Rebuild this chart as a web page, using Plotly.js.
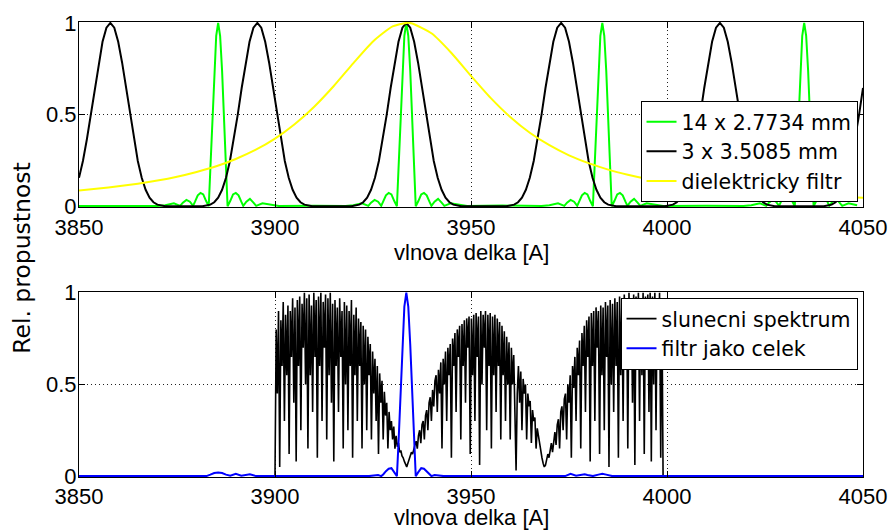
<!DOCTYPE html>
<html>
<head>
<meta charset="utf-8">
<script src="https://cdn.plot.ly/plotly-3.0.1.min.js"></script>
<style>html,body{margin:0;padding:0;background:#fff;}#chart{width:889px;height:531px;}</style>
</head>
<body>
<div id="chart"></div>
<script>
// ---------- DATA ----------
const xTicks = [3850, 3900, 3950, 4000, 4050];
const yTicks = [0, 0.5, 1];
const yTickText = ['0', '0.5', '1'];
const xTitle = 'vlnova delka [A]';
const yTitle = 'Rel. propustnost';

const greenName = '14 x 2.7734 mm';
const greenWave = [
3850, 3860, 3866,
3870, 3872, 3874.2, 3875.8, 3876.5, 3877.4, 3878.3, 3879.1, 3879.6, 3880.3, 3881, 3881.7, 3882.4, 3883.1, 3883.5, 3884, 3884.5, 3885, 3885.5, 3886, 3886.5, 3887, 3887.5, 3887.9, 3888.6, 3889.3, 3890, 3890.7, 3891.4, 3891.9, 3892.7, 3893.6, 3894.5, 3895.2, 3896.8, 3899, 3901,
3910,
3918, 3920, 3922.2, 3923.8, 3924.5, 3925.4, 3926.3, 3927.1, 3927.6, 3928.3, 3929, 3929.7, 3930.4, 3931.1, 3931.5, 3932, 3932.5, 3933, 3933.5, 3934, 3934.5, 3935, 3935.5, 3935.9, 3936.6, 3937.3, 3938, 3938.7, 3939.4, 3939.9, 3940.7, 3941.6, 3942.5, 3943.2, 3944.8, 3947, 3949,
3958,
3968, 3970, 3972.2, 3973.8, 3974.5, 3975.4, 3976.3, 3977.1, 3977.6, 3978.3, 3979, 3979.7, 3980.4, 3981.1, 3981.5, 3982, 3982.5, 3983, 3983.5, 3984, 3984.5, 3985, 3985.5, 3985.9, 3986.6, 3987.3, 3988, 3988.7, 3989.4, 3989.9, 3990.7, 3991.6, 3992.5, 3993.2, 3994.8, 3997, 3999,
4010,
4019.5, 4021.5, 4023.7, 4025.3, 4026, 4026.9, 4027.8, 4028.6, 4029.1, 4029.8, 4030.5, 4031.2, 4031.9, 4032.6, 4033, 4033.5, 4034, 4034.5, 4035, 4035.5, 4036, 4036.5, 4037, 4037.4, 4038.1, 4038.8, 4039.5, 4040.2, 4040.9, 4041.4, 4042.2, 4043.1, 4044, 4044.7, 4046.3, 4048.5, 4050
];
const greenT = [
0.002, 0.004, 0.002,
0.001, 0.006, 0.016, 0.002, 0.02, 0.035, 0.025, 0.002, 0.025, 0.06, 0.073, 0.065, 0.03, 0, 0.2, 0.47, 0.74, 0.93, 1, 0.93, 0.74, 0.47, 0.2, 0, 0.03, 0.065, 0.073, 0.06, 0.025, 0.002, 0.025, 0.04, 0.02, 0.002, 0.016, 0.006, 0.001,
0.003,
0.001, 0.006, 0.016, 0.002, 0.02, 0.035, 0.025, 0.002, 0.025, 0.06, 0.073, 0.065, 0.03, 0, 0.2, 0.47, 0.74, 0.93, 1, 0.93, 0.74, 0.47, 0.2, 0, 0.03, 0.065, 0.073, 0.06, 0.025, 0.002, 0.025, 0.04, 0.02, 0.002, 0.016, 0.006, 0.001,
0.004,
0.001, 0.006, 0.016, 0.002, 0.02, 0.035, 0.025, 0.002, 0.025, 0.06, 0.073, 0.065, 0.03, 0, 0.2, 0.47, 0.74, 0.93, 1, 0.93, 0.74, 0.47, 0.2, 0, 0.03, 0.065, 0.073, 0.06, 0.025, 0.002, 0.025, 0.04, 0.02, 0.002, 0.016, 0.006, 0.001,
0.003,
0.001, 0.006, 0.016, 0.002, 0.02, 0.035, 0.025, 0.002, 0.025, 0.06, 0.073, 0.065, 0.03, 0, 0.2, 0.47, 0.74, 0.93, 1, 0.93, 0.74, 0.47, 0.2, 0, 0.03, 0.065, 0.073, 0.06, 0.025, 0.002, 0.025, 0.04, 0.02, 0.002, 0.016, 0.006
];

const blackName = '3 x 3.5085 mm';
const blackWave = [
3850, 3851, 3852, 3853, 3854, 3855, 3856, 3857, 3858, 3859, 3860, 3861, 3862, 3863, 3864, 3865, 3866, 3867, 3868, 3869, 3870, 3871, 3872,
3881.5, 3882.5, 3883.5, 3884.5, 3885.5, 3886.5, 3887.5, 3888.5, 3889.5, 3890.5, 3891.5, 3892.5, 3893.5, 3894.5, 3895.5, 3896.5, 3897.5, 3898.5, 3899.5, 3900.5, 3901.5, 3902.5, 3903.5, 3904.5, 3905.5, 3906.5, 3907.5, 3908.5, 3909.5,
3919.5, 3920.5, 3921.5, 3922.5, 3923.5, 3924.5, 3925.5, 3926.5, 3927.5, 3928.5, 3929.5, 3930.5, 3931.5, 3932.5, 3933.5, 3934.5, 3935.5, 3936.5, 3937.5, 3938.5, 3939.5, 3940.5, 3941.5, 3942.5, 3943.5, 3944.5, 3945.5, 3946.5, 3947.5,
3959, 3960, 3961, 3962, 3963, 3964, 3965, 3966, 3967, 3968, 3969, 3970, 3971, 3972, 3973, 3974, 3975, 3976, 3977, 3978, 3979, 3980, 3981, 3982, 3983, 3984, 3985, 3986, 3987,
3999.5, 4000.5, 4001.5, 4002.5, 4003.5, 4004.5, 4005.5, 4006.5, 4007.5, 4008.5, 4009.5, 4010.5, 4011.5, 4012.5, 4013.5, 4014.5, 4015.5, 4016.5, 4017.5, 4018.5, 4019.5, 4020.5, 4021.5, 4022.5, 4023.5, 4024.5, 4025.5, 4026.5, 4027.5,
4040, 4041, 4042, 4043, 4044, 4045, 4046, 4047, 4048, 4049, 4050
];
const blackT = [
0.155, 0.247, 0.364, 0.5, 0.645, 0.783, 0.897, 0.974, 1, 0.974, 0.897, 0.783, 0.645, 0.5, 0.364, 0.247, 0.155, 0.09, 0.047, 0.022, 0.009, 0.003, 0,
0, 0.003, 0.009, 0.022, 0.047, 0.09, 0.155, 0.247, 0.364, 0.5, 0.645, 0.783, 0.897, 0.974, 1, 0.974, 0.897, 0.783, 0.645, 0.5, 0.364, 0.247, 0.155, 0.09, 0.047, 0.022, 0.009, 0.003, 0,
0, 0.003, 0.009, 0.022, 0.047, 0.09, 0.155, 0.247, 0.364, 0.5, 0.645, 0.783, 0.897, 0.974, 1, 0.974, 0.897, 0.783, 0.645, 0.5, 0.364, 0.247, 0.155, 0.09, 0.047, 0.022, 0.009, 0.003, 0,
0, 0.003, 0.009, 0.022, 0.047, 0.09, 0.155, 0.247, 0.364, 0.5, 0.645, 0.783, 0.897, 0.974, 1, 0.974, 0.897, 0.783, 0.645, 0.5, 0.364, 0.247, 0.155, 0.09, 0.047, 0.022, 0.009, 0.003, 0,
0, 0.003, 0.009, 0.022, 0.047, 0.09, 0.155, 0.247, 0.364, 0.5, 0.645, 0.783, 0.897, 0.974, 1, 0.974, 0.897, 0.783, 0.645, 0.5, 0.364, 0.247, 0.155, 0.09, 0.047, 0.022, 0.009, 0.003, 0,
0, 0.003, 0.009, 0.022, 0.047, 0.09, 0.155, 0.247, 0.364, 0.5, 0.645
];

const yellowName = 'dielektricky filtr';
const yellowWave = [3850, 3855, 3860, 3865, 3870, 3875, 3880, 3885, 3890, 3895, 3900, 3905, 3910, 3915, 3920, 3925, 3930, 3933.5, 3935, 3940, 3945, 3950, 3955, 3960, 3965, 3970, 3975, 3980, 3985, 3990, 3995, 4000, 4005, 4010, 4015, 4020, 4025, 4030, 4035, 4040, 4045, 4050];
const yellowT = [0.086, 0.097, 0.109, 0.123, 0.140, 0.161, 0.187, 0.218, 0.258, 0.307, 0.369, 0.447, 0.543, 0.656, 0.781, 0.899, 0.981, 1.0, 0.997, 0.942, 0.836, 0.711, 0.591, 0.487, 0.401, 0.333, 0.278, 0.235, 0.200, 0.172, 0.149, 0.130, 0.115, 0.102, 0.091, 0.081, 0.073, 0.066, 0.060, 0.055, 0.051, 0.046];

const solarName = 'slunecni spektrum';
const solarWave = [
3900, 3900.3, 3900.6, 3900.9, 3901.2, 3901.5, 3901.8, 3902.1, 3902.4, 3902.7,
3903, 3903.3, 3903.6, 3903.9, 3904.2, 3904.5, 3904.8, 3905.1, 3905.4, 3905.7,
3906, 3906.3, 3906.6, 3906.9, 3907.2, 3907.5, 3907.8, 3908.1, 3908.4, 3908.7,
3909, 3909.3, 3909.6, 3909.9, 3910.2, 3910.5, 3910.8, 3911.1, 3911.4, 3911.7,
3912, 3912.3, 3912.6, 3912.9, 3913.2, 3913.5, 3913.8, 3914.1, 3914.4, 3914.7,
3915, 3915.3, 3915.6, 3915.9, 3916.2, 3916.5, 3916.8, 3917.1, 3917.4, 3917.7,
3918, 3918.3, 3918.6, 3918.9, 3919.2, 3919.5, 3919.8, 3920.1, 3920.4, 3920.7,
3921, 3921.3, 3921.6, 3921.9, 3922.2, 3922.5, 3922.8, 3923.1, 3923.4, 3923.7,
3924, 3924.3, 3924.6, 3924.9, 3925.2, 3925.5, 3925.8, 3926.1, 3926.4, 3926.7,
3927, 3927.3, 3927.6, 3927.9, 3928.2, 3928.5, 3928.8, 3929.1, 3929.4, 3929.7,
3930, 3930.3, 3930.6, 3930.9, 3931.2, 3931.5, 3931.8, 3932.1, 3932.4, 3932.7,
3933, 3933.3, 3933.6, 3933.9, 3934.2, 3934.5, 3934.8, 3935.1, 3935.4, 3935.7,
3936, 3936.3, 3936.6, 3936.9, 3937.2, 3937.5, 3937.8, 3938.1, 3938.4, 3938.7,
3939, 3939.3, 3939.6, 3939.9, 3940.2, 3940.5, 3940.8, 3941.1, 3941.4, 3941.7,
3942, 3942.3, 3942.6, 3942.9, 3943.2, 3943.5, 3943.8, 3944.1, 3944.4, 3944.7,
3945, 3945.3, 3945.6, 3945.9, 3946.2, 3946.5, 3946.8, 3947.1, 3947.4, 3947.7,
3948, 3948.3, 3948.6, 3948.9, 3949.2, 3949.5, 3949.8, 3950.1, 3950.4, 3950.7,
3951, 3951.3, 3951.6, 3951.9, 3952.2, 3952.5, 3952.8, 3953.1, 3953.4, 3953.7,
3954, 3954.3, 3954.6, 3954.9, 3955.2, 3955.5, 3955.8, 3956.1, 3956.4, 3956.7,
3957, 3957.3, 3957.6, 3957.9, 3958.2, 3958.5, 3958.8, 3959.1, 3959.4, 3959.7,
3960, 3960.3, 3960.6, 3960.9, 3961.2, 3961.5, 3961.8, 3962.1, 3962.4, 3962.7,
3963, 3963.3, 3963.6, 3963.9, 3964.2, 3964.5, 3964.8, 3965.1, 3965.4, 3965.7,
3966, 3966.3, 3966.6, 3966.9, 3967.2, 3967.5, 3967.8, 3968.1, 3968.4, 3968.7,
3969, 3969.3, 3969.6, 3969.9, 3970.2, 3970.5, 3970.8, 3971.1, 3971.4, 3971.7,
3972, 3972.3, 3972.6, 3972.9, 3973.2, 3973.5, 3973.8, 3974.1, 3974.4, 3974.7,
3975, 3975.3, 3975.6, 3975.9, 3976.2, 3976.5, 3976.8, 3977.1, 3977.4, 3977.7,
3978, 3978.3, 3978.6, 3978.9, 3979.2, 3979.5, 3979.8, 3980.1, 3980.4, 3980.7,
3981, 3981.3, 3981.6, 3981.9, 3982.2, 3982.5, 3982.8, 3983.1, 3983.4, 3983.7,
3984, 3984.3, 3984.6, 3984.9, 3985.2, 3985.5, 3985.8, 3986.1, 3986.4, 3986.7,
3987, 3987.3, 3987.6, 3987.9, 3988.2, 3988.5, 3988.8, 3989.1, 3989.4, 3989.7,
3990, 3990.3, 3990.6, 3990.9, 3991.2, 3991.5, 3991.8, 3992.1, 3992.4, 3992.7,
3993, 3993.3, 3993.6, 3993.9, 3994.2, 3994.5, 3994.8, 3995.1, 3995.4, 3995.7,
3996, 3996.3, 3996.6, 3996.9, 3997.2, 3997.5, 3997.8, 3998.1, 3998.4, 3998.7,
3999
];
const solarFlux = [
0, 0.8, 0.45, 0.9, 0.05, 0.85, 0.6, 0.95, 0.3, 0.88,
0.55, 0.93, 0.12, 0.9, 0.65, 0.97, 0.4, 0.92, 0.08, 0.96,
0.6, 0.98, 0.25, 0.94, 0.7, 1.0, 0.5, 0.97, 0.15, 0.99,
0.55, 0.93, 0.35, 1.0, 0.65, 0.96, 0.1, 0.98, 0.6, 1.0,
0.3, 0.95, 0.7, 0.99, 0.2, 0.97, 0.55, 1.0, 0.4, 0.94,
0.08, 0.96, 0.6, 0.92, 0.35, 0.97, 0.65, 0.9, 0.15, 0.95,
0.5, 0.93, 0.25, 0.9, 0.6, 0.96, 0.1, 0.88, 0.55, 0.92,
0.3, 0.86, 0.6, 0.84, 0.15, 0.82, 0.5, 0.8, 0.25, 0.76,
0.55, 0.72, 0.2, 0.68, 0.45, 0.64, 0.3, 0.6, 0.12, 0.56,
0.4, 0.52, 0.2, 0.46, 0.33, 0.4, 0.15, 0.35, 0.25, 0.3,
0.2, 0.27, 0.15, 0.22, 0.16, 0.18, 0.13, 0.14, 0.11, 0.1,
0.08, 0.06, 0.05, 0.07, 0.09, 0.11, 0.13, 0.12, 0.15, 0.17,
0.19, 0.15, 0.22, 0.25, 0.18, 0.28, 0.3, 0.2, 0.33, 0.36,
0.25, 0.4, 0.43, 0.3, 0.47, 0.38, 0.52, 0.55, 0.35, 0.58,
0.45, 0.62, 0.15, 0.64, 0.5, 0.68, 0.3, 0.7, 0.55, 0.72,
0.1, 0.75, 0.6, 0.78, 0.35, 0.8, 0.65, 0.82, 0.2, 0.83,
0.6, 0.85, 0.4, 0.86, 0.7, 0.87, 0.12, 0.86, 0.55, 0.88,
0.3, 0.89, 0.65, 0.87, 0.06, 0.9, 0.5, 0.88, 0.7, 0.9,
0.25, 0.88, 0.6, 0.89, 0.15, 0.87, 0.55, 0.88, 0.35, 0.86,
0.6, 0.84, 0.2, 0.82, 0.55, 0.79, 0.3, 0.76, 0.5, 0.73,
0.2, 0.7, 0.5, 0.66, 0.35, 0.03, 0.45, 0.6, 0.4, 0.57,
0.25, 0.53, 0.45, 0.5, 0.2, 0.45, 0.38, 0.41, 0.18, 0.36,
0.3, 0.32, 0.15, 0.26, 0.22, 0.18, 0.12, 0.1, 0.07, 0.05,
0.06, 0.09, 0.12, 0.1, 0.15, 0.18, 0.13, 0.21, 0.24, 0.17,
0.28, 0.31, 0.15, 0.35, 0.38, 0.25, 0.42, 0.45, 0.2, 0.5,
0.4, 0.55, 0.1, 0.6, 0.48, 0.65, 0.3, 0.7, 0.55, 0.74,
0.15, 0.78, 0.6, 0.82, 0.35, 0.85, 0.65, 0.87, 0.08, 0.89,
0.6, 0.9, 0.3, 0.92, 0.7, 0.9, 0.12, 0.93, 0.55, 0.92,
0.25, 0.95, 0.65, 0.93, 0.05, 0.96, 0.5, 0.94, 0.35, 0.97,
0.6, 0.95, 0.1, 0.98, 0.55, 0.96, 0.3, 0.99, 0.7, 0.97,
0.15, 1.0, 0.6, 0.97, 0.4, 0.99, 0.06, 0.98, 0.65, 1.0,
0.3, 0.97, 0.55, 1.0, 0.12, 0.98, 0.6, 0.99, 0.35, 1.0,
0.08, 0.98, 0.5, 1.0, 0.25, 0.97, 0.6, 1.0, 0.1, 0.95,
0
];

const blueName = 'filtr jako celek';
const blueWave = [3850, 3882.5, 3883.5, 3884.5, 3885.5, 3886.5, 3887.5, 3888.6, 3890, 3891.4, 3893.6, 3895.2, 3924, 3925.4, 3926.3, 3927.1, 3927.6, 3928.3, 3929, 3929.7, 3930.4, 3931.1, 3931.5, 3932, 3932.5, 3933, 3933.5, 3934, 3934.5, 3935, 3935.5, 3935.9, 3936.6, 3937.3, 3938, 3938.7, 3939.4, 3939.9, 3940.7, 3941.6, 3943, 3974, 3975.4, 3976.8, 3978.3, 3979, 3979.7, 3981.1, 3982.5, 3983.5, 3984.5, 3986, 4050];
const blueT = [0, 0, 0.008, 0.017, 0.02, 0.017, 0.008, 0.002, 0.012, 0.002, 0.01, 0, 0, 0.005, 0.006, 0, 0.009, 0.027, 0.04, 0.043, 0.023, 0, 0.177, 0.437, 0.717, 0.924, 1, 0.924, 0.717, 0.437, 0.177, 0, 0.023, 0.043, 0.04, 0.027, 0.009, 0, 0.006, 0.005, 0, 0, 0.012, 0.002, 0.008, 0.01, 0.006, 0, 0.008, 0.012, 0.008, 0, 0];

// ---------- CHART ----------
const FONT = 'Liberation Sans, Arial, Helvetica, sans-serif';
const WIDE = 'DejaVu Sans, Verdana, sans-serif';

const traces = [
  {x: greenWave, y: greenT, name: greenName, type: 'scatter', mode: 'lines',
   line: {color: '#00ff00', width: 2}, xaxis: 'x', yaxis: 'y', legend: 'legend'},
  {x: blackWave, y: blackT, name: blackName, type: 'scatter', mode: 'lines',
   line: {color: '#000000', width: 2}, xaxis: 'x', yaxis: 'y', legend: 'legend'},
  {x: yellowWave, y: yellowT, name: yellowName, type: 'scatter', mode: 'lines',
   line: {color: '#ffff00', width: 2, shape: 'spline', smoothing: 0.6}, xaxis: 'x', yaxis: 'y', legend: 'legend'},
  {x: solarWave, y: solarFlux, name: solarName, type: 'scatter', mode: 'lines',
   line: {color: '#000000', width: 1.6}, xaxis: 'x2', yaxis: 'y2', legend: 'legend2'},
  {x: blueWave, y: blueT, name: blueName, type: 'scatter', mode: 'lines',
   line: {color: '#0000ff', width: 2}, xaxis: 'x2', yaxis: 'y2', legend: 'legend2'}
];

function xAxis(anchor) {
  return {
    anchor: anchor, domain: [0, 1], range: [3850, 4050],
    tickmode: 'array', tickvals: xTicks, ticktext: xTicks.map(String),
    ticks: 'inside', ticklen: 6, tickwidth: 1, tickcolor: '#000',
    showline: true, linecolor: '#000', linewidth: 1, mirror: 'ticks',
    showgrid: true, gridcolor: '#222', gridwidth: 1, griddash: '1px,3px',
    zeroline: false, ticklabelstandoff: 0,
    tickfont: {family: FONT, size: 22, color: '#000'}
  };
}
function yAxis(anchor, domain) {
  return {
    anchor: anchor, domain: domain, range: [-0.005, 1.005],
    tickmode: 'array', tickvals: yTicks, ticktext: yTickText,
    ticks: 'inside', ticklen: 6, tickwidth: 1, tickcolor: '#000',
    showline: true, linecolor: '#000', linewidth: 1, mirror: 'ticks',
    showgrid: true, gridcolor: '#222', gridwidth: 1, griddash: '1px,3px',
    zeroline: false, ticklabelstandoff: -3,
    tickfont: {family: FONT, size: 22, color: '#000'}
  };
}
const legendStyle = {
  bgcolor: '#ffffff', bordercolor: '#000', borderwidth: 1,
  font: {family: WIDE, size: 20.5, color: '#000'},
  xanchor: 'right', x: 0.993, tracegroupgap: 0
};

const layout = {
  width: 889, height: 531,
  margin: {l: 79, r: 25.5, t: 22, b: 53.7, pad: 0},
  paper_bgcolor: '#ffffff', plot_bgcolor: '#ffffff',
  font: {family: FONT, size: 22, color: '#000'},
  showlegend: true,
  xaxis: xAxis('y'),
  yaxis: yAxis('x', [0.593, 1]),
  xaxis2: xAxis('y2'),
  yaxis2: yAxis('x2', [0, 0.407]),
  legend: Object.assign({}, legendStyle, {y: 0.6047, yanchor: 'bottom'}),
  legend2: Object.assign({}, legendStyle, {y: 0.3938, yanchor: 'top'}),
  annotations: [
    {text: xTitle, xref: 'paper', yref: 'paper', x: 0.5, y: 0.493, xanchor: 'center', yanchor: 'middle', showarrow: false, font: {family: FONT, size: 22, color: '#000'}},
    {text: xTitle, xref: 'paper', yref: 'paper', x: 0.5, y: -0.089, xanchor: 'center', yanchor: 'middle', showarrow: false, font: {family: FONT, size: 22, color: '#000'}},
    {text: yTitle, xref: 'paper', yref: 'paper', x: -0.0727, y: 0.4817, xanchor: 'center', yanchor: 'middle', textangle: -90, showarrow: false, font: {family: WIDE, size: 23.5, color: '#000'}}
  ]
};

Plotly.newPlot('chart', traces, layout, {displayModeBar: false, staticPlot: true});
</script>
</body>
</html>
